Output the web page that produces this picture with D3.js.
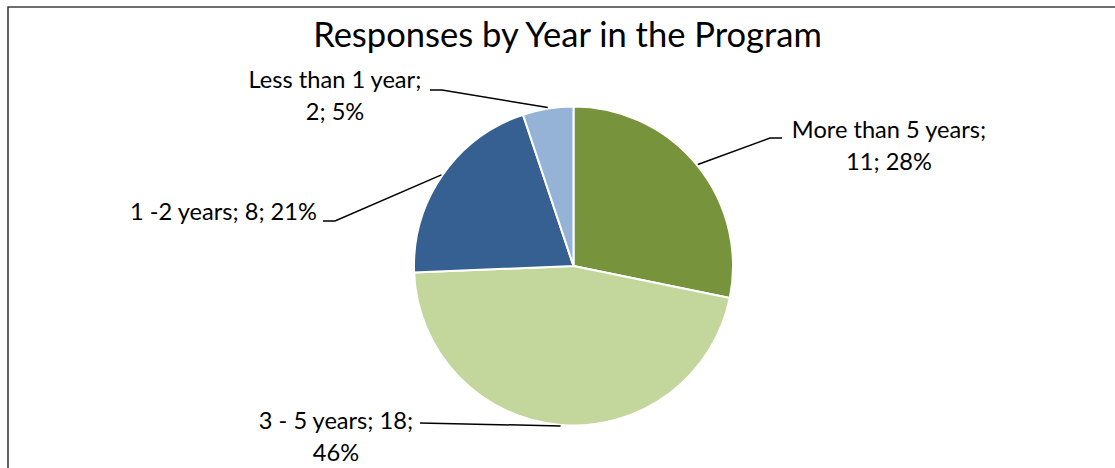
<!DOCTYPE html>
<html>
<head>
<meta charset="utf-8">
<script src="https://cdn.jsdelivr.net/npm/d3@7"></script>
<style>
  html, body { margin: 0; padding: 0; background: #fff; }
  svg { display: block; }
  text { font-family: Lato, "Open Sans", sans-serif; fill: #000; }
</style>
</head>
<body>
<svg id="chart" width="1115" height="468"></svg>
<script>
// ---- Data ----
const title = "Responses by Year in the Program";
const categories = ["More than 5 years", "3 - 5 years", "1 -2 years", "Less than 1 year"];
const counts = [11, 18, 8, 2];
const percents = ["28%", "46%", "21%", "5%"];
const colors = ["#77933C", "#C3D69B", "#376092", "#95B3D7"];

// Label text lines (as in the reference)
const labelLines = [
  ["More than 5 years;", "11; 28%"],
  ["3 - 5 years; 18;", "46%"],
  ["1 -2 years; 8; 21%"],
  ["Less than 1 year;", "2; 5%"]
];

// ---- Layout ----
const W = 1115, H = 468;
const cx = 573.5, cy = 266, R = 159.5;
const labelLayout = [
  { x: 889, y: 138, side: "right", hx: 782, hy: 138 },
  { x: 336, y: 429, side: "left", hx: 420, hy: 423, straight: true },
  { x: 223.5, y: 220, side: "left", hx: 323, hy: 221 },
  { x: 335, y: 88, side: "left", hx: 430, hy: 90 }
];
const lineGap = 32;

const svg = d3.select("#chart");

// frame (top + left borders)
svg.append("path")
  .attr("d", `M8,${H} L8,7 L${W},7`)
  .attr("fill", "none")
  .attr("stroke", "#3f3f3f")
  .attr("stroke-width", 1.6);

// title
const t = svg.append("text")
  .attr("x", 567.5).attr("y", 47)
  .attr("text-anchor", "middle")
  .style("font-size", "100px")
  .text(title);
const tw = t.node().getComputedTextLength();
t.style("font-size", (100 * 509 / tw) + "px");

// pie
const pie = d3.pie().sort(null).value(d => d)(counts);
const arc = d3.arc().innerRadius(0).outerRadius(R);
const edgeArc = d3.arc().innerRadius(R + 1).outerRadius(R + 1);

const g = svg.append("g").attr("transform", `translate(${cx},${cy})`);
g.selectAll("path.slice")
  .data(pie)
  .join("path")
  .attr("class", "slice")
  .attr("d", arc)
  .attr("fill", (d, i) => colors[i])
  .attr("stroke", "#fff")
  .attr("stroke-width", 2)
  .attr("stroke-linejoin", "round");

// label font size fitted on one reference label
const probe = svg.append("text").style("font-size", "100px").text(labelLines[2][0]);
const pw = probe.node().getComputedTextLength();
probe.remove();
const labelSize = 100 * 187 / pw;

// leader lines
const leaders = svg.append("g");
pie.forEach((d, i) => {
  const L = labelLayout[i];
  const c = edgeArc.centroid(d);
  const ex = cx + c[0], ey = cy + c[1];
  let pts;
  if (L.straight) {
    pts = [[L.hx, L.hy], [ex, ey]];
  } else {
    const dx = L.side === "left" ? 12 : -12;
    pts = [[L.hx, L.hy], [L.hx + dx, L.hy], [ex, ey]];
  }
  leaders.append("path")
    .attr("d", d3.line()(pts))
    .attr("fill", "none")
    .attr("stroke", "#000")
    .attr("stroke-width", 1.5);
});

// labels
labelLines.forEach((lines, i) => {
  const L = labelLayout[i];
  const txt = svg.append("text")
    .attr("text-anchor", "middle")
    .style("font-size", labelSize + "px");
  lines.forEach((s, j) => {
    txt.append("tspan")
      .attr("x", L.x)
      .attr("y", L.y + j * lineGap)
      .text(s);
  });
});
</script>
</body>
</html>
